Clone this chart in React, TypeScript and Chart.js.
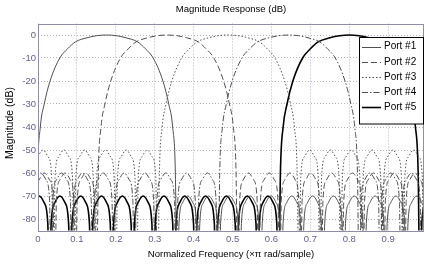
import React, { useEffect, useRef } from 'react';
import { Chart, registerables } from 'chart.js';

Chart.register(...registerables);

// ---- data ----
const xTickValues = [0, 0.1, 0.2, 0.3, 0.4, 0.5, 0.6, 0.7, 0.8, 0.9];
const xTickLabels = ['0', '0.1', '0.2', '0.3', '0.4', '0.5', '0.6', '0.7', '0.8', '0.9'];
const yTickValues = [-80, -70, -60, -50, -40, -30, -20, -10, 0];
const yTickLabels = ['-80', '-70', '-60', '-50', '-40', '-30', '-20', '-10', '0'];

const portNames = ['Port #1', 'Port #2', 'Port #3', 'Port #4', 'Port #5'];
const centerFreqs = [0.176, 0.332, 0.489, 0.644, 0.8];
const sidelobeLevels = [-70, -60, -50, -60, -70];

// main lobe: distance from the centre (x pi rad/sample) and magnitude (dB)
const mainLobeOffsets = [0, 0.025, 0.05, 0.08, 0.1, 0.12, 0.145, 0.16, 0.17, 0.177, 0.182];
const mainLobeDb = [0, -0.3, -1.2, -3, -6, -10, -20, -30, -40, -60, -120];

// side lobes: distance between nulls, and one lobe's profile
const sidelobeSpacing = 0.0535;
const sidelobeProfileFrac = [0, 0.08, 0.25, 0.5, 0.75, 0.92];
const sidelobeProfileDb = [-50, -12, -3, 0, -3, -12];

const X_MIN = 0;
const X_MAX = 0.992;
const Y_MIN = -85;
const Y_MAX = 5;

type P = { x: number; y: number };

function buildPort(i: number): P[] {
  const c = centerFreqs[i];
  const L = sidelobeLevels[i];
  const firstNull = mainLobeOffsets[mainLobeOffsets.length - 1];
  const nullDb = mainLobeDb[mainLobeDb.length - 1];
  const left: P[] = [];
  const leftNulls: number[] = [];
  for (let n = c - firstNull; n > -0.12; n -= sidelobeSpacing) leftNulls.push(n);
  leftNulls.reverse();
  for (let k = 0; k < leftNulls.length - 1; k++) {
    const a = leftNulls[k];
    const b = leftNulls[k + 1];
    for (let j = 0; j < sidelobeProfileFrac.length; j++) {
      const y = j === 0 ? nullDb : L + sidelobeProfileDb[j];
      left.push({ x: a + (b - a) * sidelobeProfileFrac[j], y });
    }
  }
  const main: P[] = [];
  for (let j = mainLobeOffsets.length - 1; j > 0; j--) main.push({ x: c - mainLobeOffsets[j], y: mainLobeDb[j] });
  for (let j = 0; j < mainLobeOffsets.length; j++) main.push({ x: c + mainLobeOffsets[j], y: mainLobeDb[j] });
  const right: P[] = [];
  const rightNulls: number[] = [];
  for (let n = c + firstNull; n < 1.12; n += sidelobeSpacing) rightNulls.push(n);
  for (let k = 0; k < rightNulls.length - 1; k++) {
    const a = rightNulls[k];
    const b = rightNulls[k + 1];
    for (let j = 1; j < sidelobeProfileFrac.length; j++) {
      right.push({ x: a + (b - a) * sidelobeProfileFrac[j], y: L + sidelobeProfileDb[j] });
    }
    right.push({ x: b, y: nullDb });
  }
  return [...left, ...main, ...right];
}

const portStyles = [
  { color: '#505050', width: 1, dash: [] as number[] },
  { color: '#505050', width: 1, dash: [6, 3] },
  { color: '#505050', width: 1, dash: [1.5, 2] },
  { color: '#505050', width: 1, dash: [6, 2, 1.5, 2] },
  { color: '#000000', width: 1.6, dash: [] as number[] },
];

const FONT = '"Liberation Sans", Arial, Helvetica, sans-serif';

const overlayPlugin = {
  id: 'overlay',
  afterDraw(chart: any) {
    const ctx = chart.ctx as CanvasRenderingContext2D;
    const a = chart.chartArea;
    ctx.save();
    ctx.strokeStyle = '#8e8ea4';
    ctx.lineWidth = 1;
    ctx.setLineDash([]);
    ctx.strokeRect(Math.round(a.left) + 0.5, Math.round(a.top) + 0.5, Math.round(a.right - a.left) - 1, Math.round(a.bottom - a.top));
    ctx.fillStyle = '#000';
    ctx.textAlign = 'center';
    ctx.textBaseline = 'middle';
    ctx.font = `9.5px ${FONT}`;
    ctx.fillText('Magnitude Response (dB)', (a.left + a.right) / 2, 9);
    ctx.fillText('Normalized Frequency (\u00d7\u03c0 rad/sample)', (a.left + a.right) / 2, 254.5);
    ctx.save();
    ctx.font = `10.5px ${FONT}`;
    ctx.translate(10, 123);
    ctx.rotate(-Math.PI / 2);
    ctx.fillText('Magnitude (dB)', 0, 0);
    ctx.restore();
    const bx = 359.5, by = 37.5, bw = 64, bh = 86.5;
    ctx.fillStyle = '#fff';
    ctx.fillRect(bx, by, bw, bh);
    ctx.strokeStyle = '#000';
    ctx.lineWidth = 1;
    ctx.strokeRect(bx, by, bw, bh);
    ctx.font = `10px ${FONT}`;
    ctx.textAlign = 'left';
    for (let i = 0; i < portNames.length; i++) {
      const y = 46.7 + i * 15.15;
      const s = portStyles[i];
      ctx.strokeStyle = s.color;
      ctx.lineWidth = s.width;
      ctx.setLineDash(s.dash);
      ctx.beginPath();
      ctx.moveTo(362, Math.round(y) + 0.5);
      ctx.lineTo(381, Math.round(y) + 0.5);
      ctx.stroke();
      ctx.setLineDash([]);
      ctx.fillStyle = '#000';
      ctx.fillText(portNames[i], 384, y);
    }
    ctx.restore();
  },
};

export default function App() {
  const ref = useRef<HTMLCanvasElement | null>(null);
  useEffect(() => {
    if (!ref.current) return;
    const gridColor = '#b4b4c6';
    const tickColor = '#62628a';
    const chart = new Chart(ref.current, {
      type: 'line',
      data: {
        datasets: portNames.map((name, i) => ({
          label: name,
          data: buildPort(i),
          borderColor: portStyles[i].color,
          borderWidth: portStyles[i].width,
          borderDash: portStyles[i].dash,
          pointRadius: 0,
          fill: false,
          cubicInterpolationMode: 'monotone' as const,
          clip: 0,
        })),
      },
      options: {
        animation: false,
        responsive: false,
        maintainAspectRatio: false,
        layout: { padding: { top: 23.5, right: 1, left: 0, bottom: 0 } },
        plugins: { legend: { display: false }, title: { display: false }, tooltip: { enabled: false } },
        scales: {
          x: {
            type: 'linear',
            min: X_MIN,
            max: X_MAX,
            afterBuildTicks: (s: any) => {
              s.ticks = xTickValues.map((v) => ({ value: v }));
            },
            afterFit: (s: any) => {
              s.height = 33.5;
            },
            ticks: {
              callback: (_v: any, idx: number) => xTickLabels[idx],
              font: { family: FONT, size: 9.5 },
              color: tickColor,
              padding: 3.5,
              maxRotation: 0,
              autoSkip: false,
            },
            grid: { color: gridColor, lineWidth: 1, drawTicks: false },
            border: { display: false, dash: [1, 2] },
          },
          y: {
            type: 'linear',
            min: Y_MIN,
            max: Y_MAX,
            afterBuildTicks: (s: any) => {
              s.ticks = yTickValues.map((v) => ({ value: v }));
            },
            afterFit: (s: any) => {
              s.width = 38;
            },
            ticks: {
              callback: (_v: any, idx: number) => yTickLabels[idx],
              font: { family: FONT, size: 9.5 },
              color: tickColor,
              padding: 2,
              autoSkip: false,
            },
            grid: { color: gridColor, lineWidth: 1, drawTicks: false },
            border: { display: false, dash: [1, 2] },
          },
        },
      },
      plugins: [overlayPlugin],
    });
    return () => chart.destroy();
  }, []);
  return (
    <div style={{ position: 'absolute', left: 0, top: 0, width: 425, height: 264, background: '#fff' }}>
      <canvas ref={ref} width={425} height={264} style={{ display: 'block', width: 425, height: 264 }} />
    </div>
  );
}
